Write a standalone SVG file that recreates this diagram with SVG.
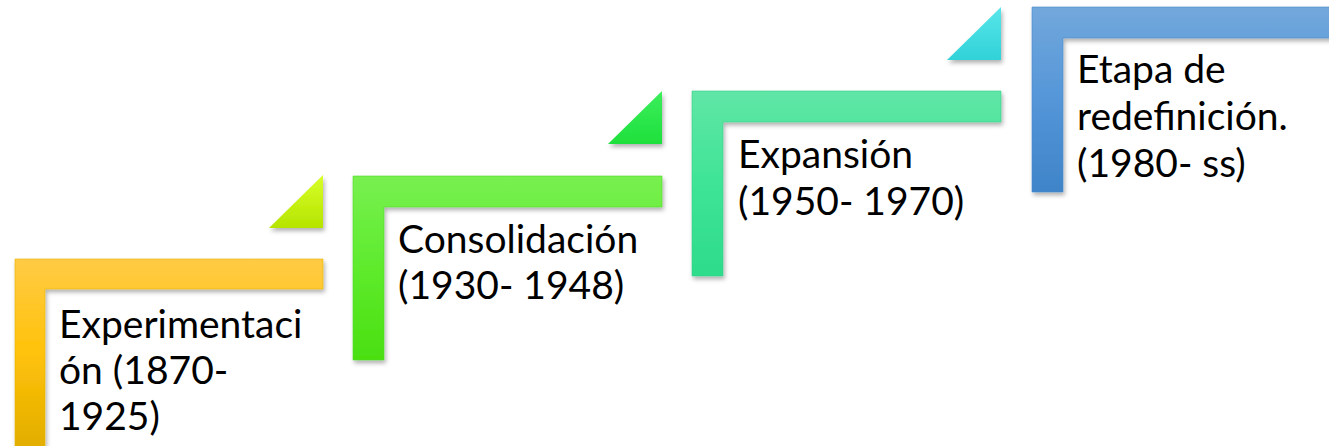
<svg xmlns="http://www.w3.org/2000/svg" width="1329" height="446" viewBox="0 0 1329 446">
  <defs>
    <linearGradient id="g1" x1="0" y1="0" x2="0" y2="1">
      <stop offset="0" stop-color="#FFCB45"/>
      <stop offset="0.5" stop-color="#FFC20A"/>
      <stop offset="1" stop-color="#E2AE00"/>
    </linearGradient>
    <linearGradient id="g2" x1="0" y1="0" x2="0" y2="1">
      <stop offset="0" stop-color="#78F050"/>
      <stop offset="0.5" stop-color="#5EEB2C"/>
      <stop offset="1" stop-color="#4ADF10"/>
    </linearGradient>
    <linearGradient id="g3" x1="0" y1="0" x2="0" y2="1">
      <stop offset="0" stop-color="#60E6A6"/>
      <stop offset="0.5" stop-color="#3FE496"/>
      <stop offset="1" stop-color="#2DDC8A"/>
    </linearGradient>
    <linearGradient id="g4" x1="0" y1="0" x2="0" y2="1">
      <stop offset="0" stop-color="#72A8DC"/>
      <stop offset="0.5" stop-color="#5496D8"/>
      <stop offset="1" stop-color="#3F84C8"/>
    </linearGradient>
    <linearGradient id="t1" x1="0" y1="0" x2="0" y2="1">
      <stop offset="0" stop-color="#D8FF2A"/>
      <stop offset="1" stop-color="#B6E400"/>
    </linearGradient>
    <linearGradient id="t2" x1="0" y1="0" x2="0" y2="1">
      <stop offset="0" stop-color="#3CEE5C"/>
      <stop offset="1" stop-color="#1EE03C"/>
    </linearGradient>
    <linearGradient id="t3" x1="0" y1="0" x2="0" y2="1">
      <stop offset="0" stop-color="#58E6EA"/>
      <stop offset="1" stop-color="#30D2D8"/>
    </linearGradient>
    <filter id="sh" x="-10%" y="-10%" width="130%" height="130%">
      <feDropShadow dx="1.5" dy="3" stdDeviation="2" flood-color="#000" flood-opacity="0.3"/>
    </filter>
  </defs>
  <style>
    .lshape { filter: url(#sh); stroke-width: 1; stroke-opacity: 0.6; }
    .tri { filter: url(#sh); }
    .lbl { font-family: Lato, "Liberation Sans", sans-serif; font-size: 39px; fill: #000; }
  </style>
  <rect width="1329" height="446" fill="#fff"/>

  <g id="connectors">
    <polygon class="tri" points="269,228 323,228 323,175" fill="url(#t1)"/>
    <polygon class="tri" points="608,144 662,144 662,91" fill="url(#t2)"/>
    <polygon class="tri" points="947,60 1001,60 1001,7" fill="url(#t3)"/>
  </g>

  <g id="step1">
    <path class="lshape" d="M15 259 H323 V289 H45 V446 H15 Z" fill="url(#g1)" stroke="#E8B400"/>
    <text class="lbl" x="59" y="338">Experimentaci</text>
    <text class="lbl" x="59" y="384">ón (1870-</text>
    <text class="lbl" x="59" y="430">1925)</text>
  </g>

  <g id="step2">
    <path class="lshape" d="M353 176 H662 V207 H384 V360 H353 Z" fill="url(#g2)" stroke="#52D82A"/>
    <text class="lbl" x="398" y="253">Consolidación</text>
    <text class="lbl" x="398" y="299">(1930- 1948)</text>
  </g>

  <g id="step3">
    <path class="lshape" d="M692 91 H1001 V122 H723 V276 H692 Z" fill="url(#g3)" stroke="#36D08A"/>
    <text class="lbl" x="738" y="168">Expansión</text>
    <text class="lbl" x="738" y="215">(1950- 1970)</text>
  </g>

  <g id="step4">
    <path class="lshape" d="M1032 7 H1345 V38 H1063 V192 H1032 Z" fill="url(#g4)" stroke="#4A88C8"/>
    <text class="lbl" x="1077" y="83">Etapa de</text>
    <text class="lbl" x="1077" y="130">redefinición.</text>
    <text class="lbl" x="1077" y="177">(1980- ss)</text>
  </g>
</svg>
